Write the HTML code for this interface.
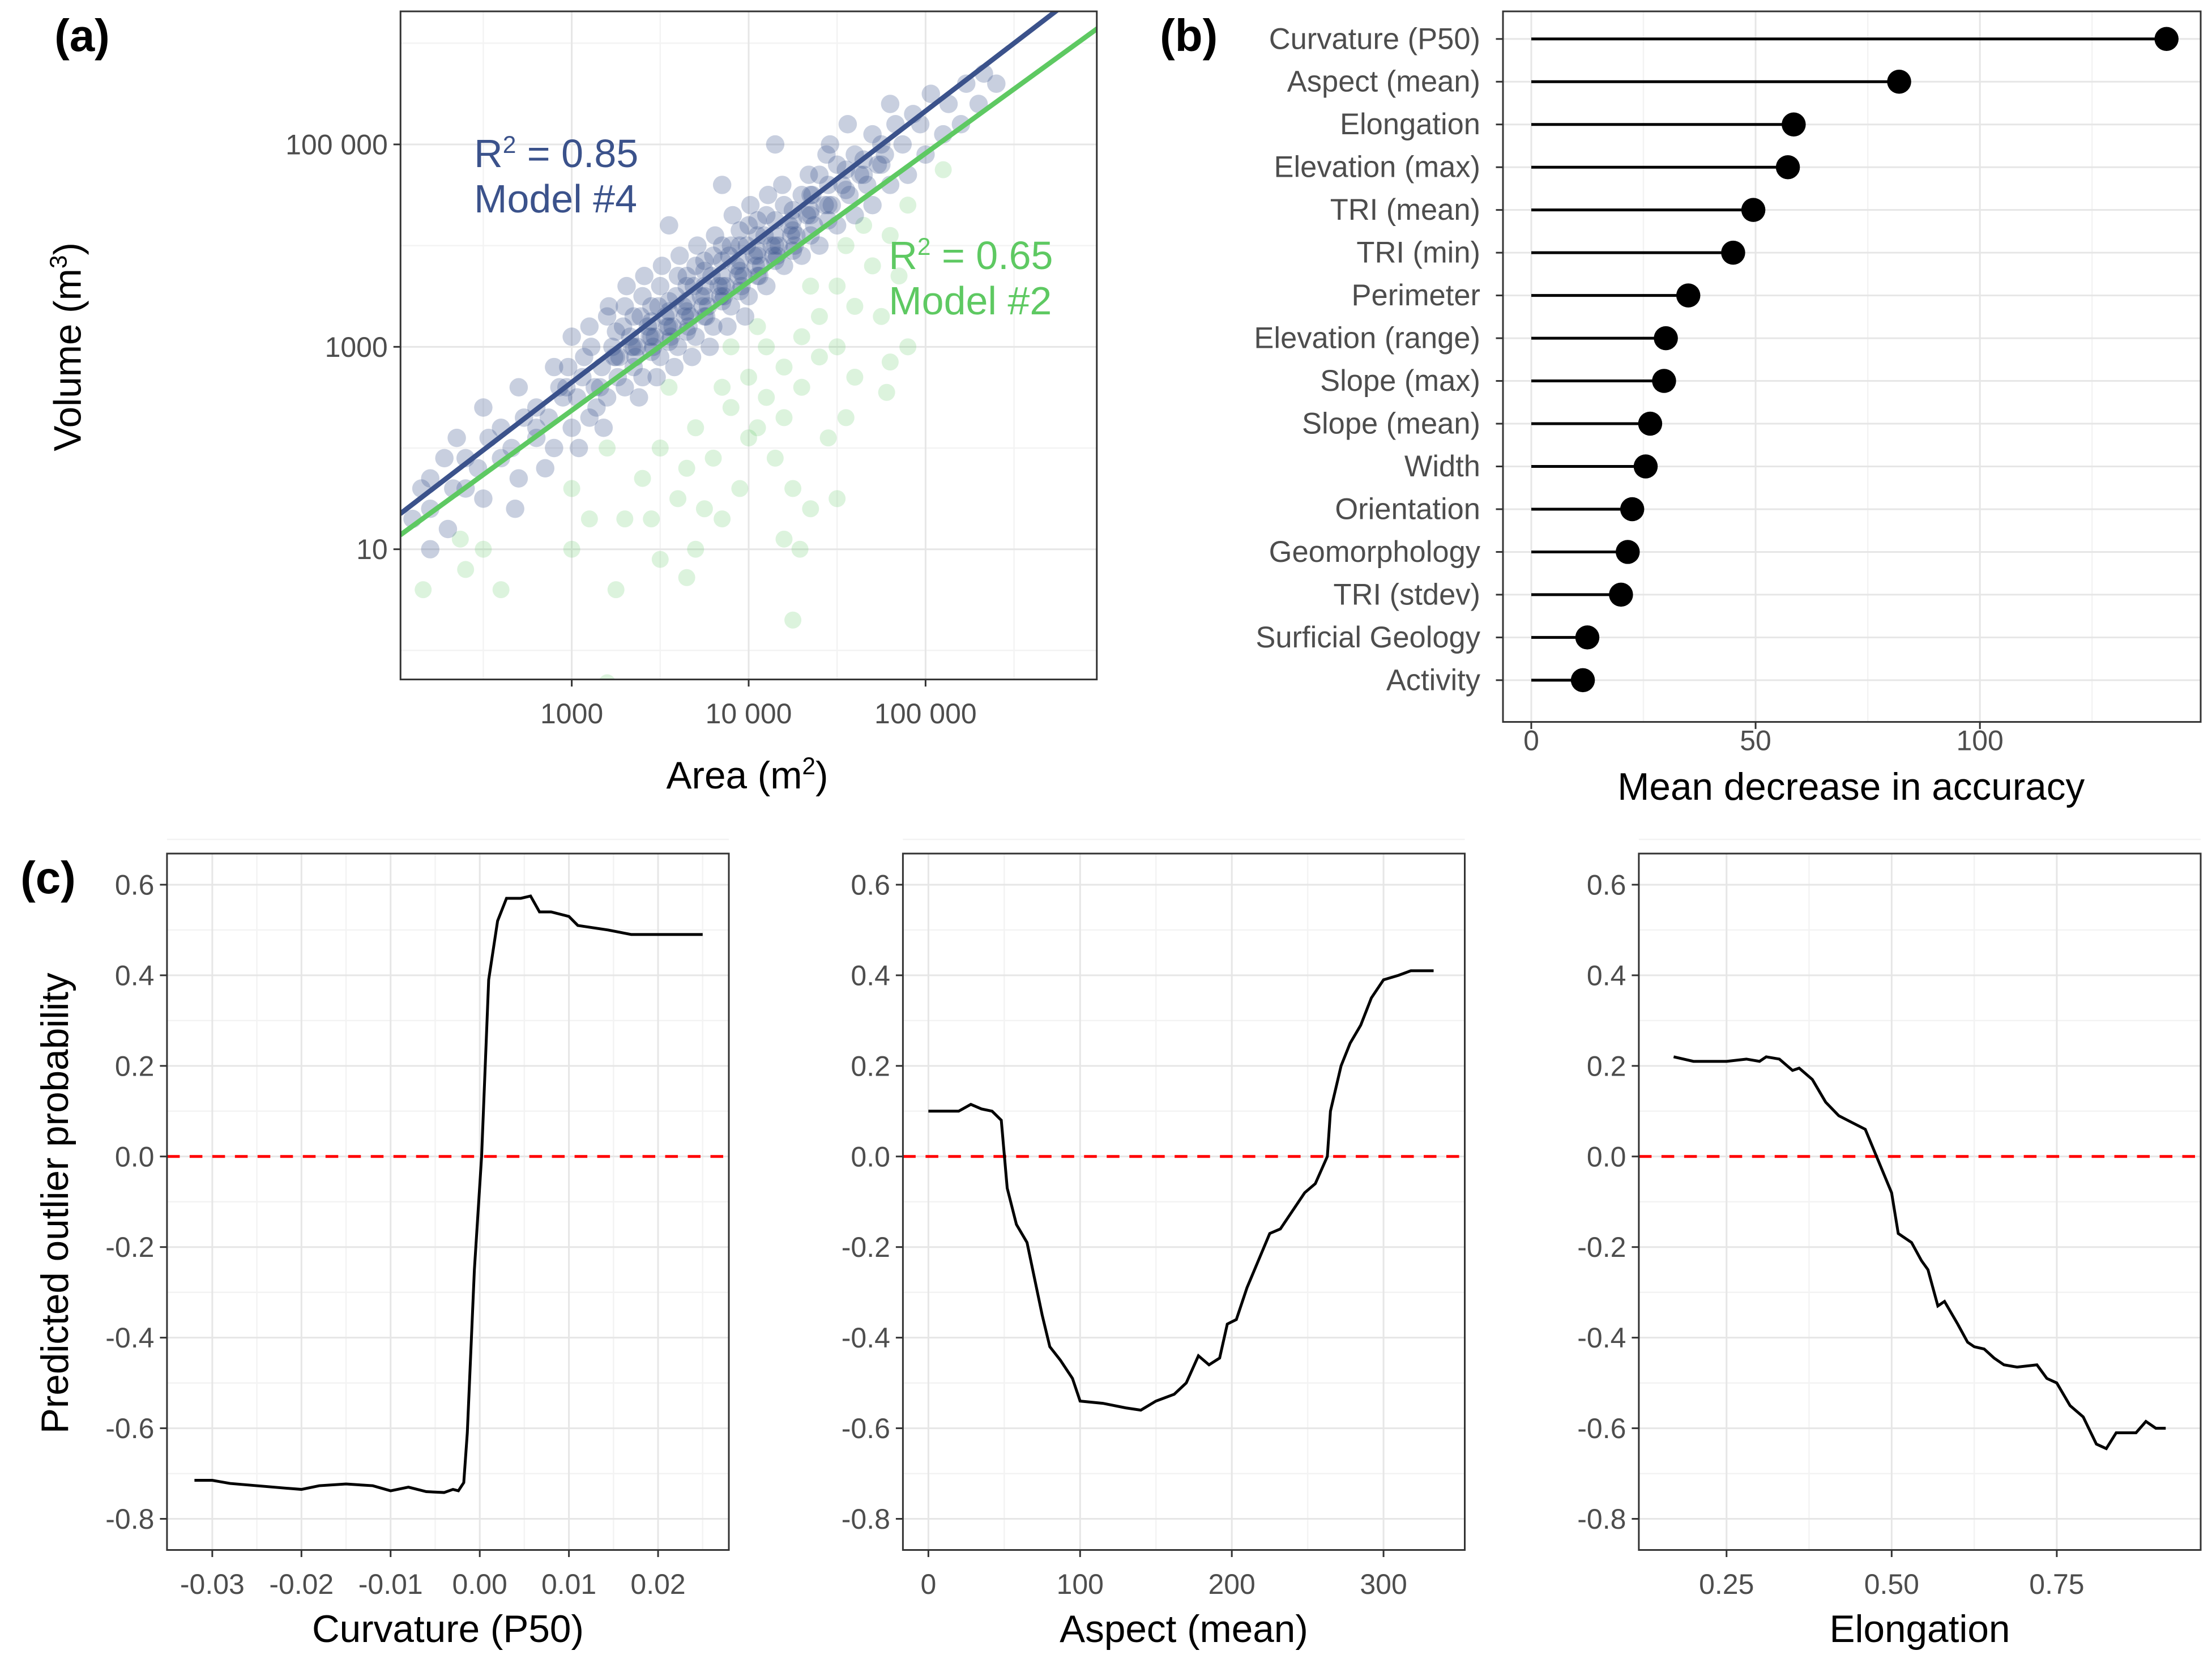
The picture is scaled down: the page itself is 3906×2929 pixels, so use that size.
<!DOCTYPE html>
<html><head><meta charset="utf-8">
<style>html,body{margin:0;padding:0;background:#fff}svg{display:block}text{font-family:"Liberation Sans",sans-serif}</style>
</head><body>
<svg id="fig" width="3906" height="2929" viewBox="0 0 1563 1172" xmlns="http://www.w3.org/2000/svg"></svg>
<script>
// ---------- DATA ----------
const blueA=[2.3,2.33,2.28,2.35,2.5,2.47,2.53,2.5,2.7,2.66,2.73,2.7,2.68,2.9,2.87,2.93,2.9,2.85,2.95,3.0,3.03,2.98,3.0,3.04,2.97,3.1,3.13,3.07,3.1,3.14,3.06,3.11,3.2,3.17,3.23,3.2,3.16,3.24,3.21,3.18,3.3,3.27,3.33,3.3,3.26,3.34,3.29,3.31,3.4,3.37,3.43,3.4,3.36,3.44,3.39,3.41,3.38,3.5,3.47,3.53,3.5,3.46,3.54,3.49,3.51,3.48,3.6,3.57,3.63,3.6,3.56,3.64,3.59,3.61,3.58,3.7,3.67,3.73,3.7,3.66,3.74,3.69,3.71,3.68,3.8,3.77,3.83,3.8,3.76,3.84,3.79,3.81,3.78,3.9,3.87,3.93,3.9,3.86,3.94,3.89,3.91,3.88,4.0,3.97,4.03,4.0,3.96,4.04,3.99,4.01,3.98,4.1,4.07,4.13,4.1,4.06,4.14,4.09,4.11,4.2,4.17,4.23,4.2,4.16,4.24,4.19,4.3,4.27,4.33,4.3,4.26,4.34,4.4,4.37,4.43,4.4,4.36,4.44,4.5,4.47,4.53,4.5,4.46,4.6,4.57,4.63,4.6,4.56,4.7,4.67,4.73,4.7,4.8,4.77,4.83,4.8,4.9,4.87,4.93,5.0,4.97,5.03,5.1,5.13,5.2,5.23,5.3,5.33,5.4,2.1,2.15,2.2,3.55,3.85,4.15,
3.25,3.25,3.35,3.35,3.35,3.45,3.45,3.45,3.45,3.55,3.55,3.55,3.55,3.65,3.65,3.65,3.65,3.65,3.75,3.75,3.75,3.75,3.75,3.85,3.85,3.85,3.85,3.85,3.95,3.95,3.95,3.95,3.95,4.05,4.05,4.05,4.05,4.05,4.15,4.15,4.15,4.15,4.25,4.25,4.25,4.25,4.35,4.35,4.35,4.35,4.45,4.45,4.45,4.55,4.55,4.65,4.65,4.75,4.75,2.2,2.2,2.4,2.4,2.6,2.6,2.8,2.8,2.8];
const blueV=[1.2,1.6,1.9,2.1,1.5,1.8,2.1,2.4,1.7,2.0,2.3,2.6,1.4,2.0,2.3,2.6,2.8,1.8,2.5,2.2,2.5,2.8,3.1,2.0,2.6,2.3,2.6,2.9,3.2,2.4,2.7,3.0,2.5,2.8,3.0,3.3,2.6,2.9,3.4,2.2,2.6,2.9,3.1,3.4,2.7,3.0,3.2,3.6,2.7,3.0,3.2,3.5,2.9,3.1,3.3,3.7,2.5,2.9,3.1,3.3,3.6,3.0,3.2,3.4,3.8,2.7,3.0,3.2,3.4,3.7,3.1,3.3,3.5,3.9,2.8,3.1,3.3,3.5,3.8,3.2,3.4,3.6,4.0,2.9,3.2,3.4,3.6,3.9,3.3,3.5,3.7,4.1,3.0,3.4,3.6,3.8,4.0,3.5,3.7,3.9,4.3,3.2,3.5,3.7,3.9,4.2,3.6,3.8,4.0,4.4,3.3,3.6,3.8,4.0,4.3,3.7,3.9,4.1,4.5,3.8,4.0,4.2,4.4,3.9,4.1,4.6,3.9,4.1,4.3,4.5,4.0,4.7,4.0,4.2,4.4,4.7,4.5,4.9,4.2,4.4,4.6,4.8,5.0,4.3,4.5,4.7,4.9,5.2,4.4,4.6,4.8,5.1,4.6,4.9,5.2,5.4,4.7,5.0,5.3,4.9,5.2,5.5,5.1,5.4,5.2,5.6,5.4,5.7,5.6,1.3,1.6,1.0,4.2,4.6,5.0,
2.9,3.15,3.0,3.3,2.8,3.1,3.4,3.25,2.95,3.2,3.45,3.35,3.05,3.35,3.6,3.45,3.15,3.7,3.5,3.75,3.6,3.3,3.85,3.6,3.85,3.7,3.45,4.0,3.75,4.0,3.85,3.55,4.15,3.9,4.1,3.95,3.7,4.25,4.0,4.25,4.1,3.85,4.15,4.35,4.25,3.95,4.3,4.5,4.35,4.1,4.4,4.6,4.25,4.55,4.75,4.7,4.85,4.8,5.0,1.4,1.7,1.6,1.9,1.9,2.2,2.1,2.4,2.2];
const greenA=[3.4,3.5,3.6,3.7,3.8,3.9,4.0,4.0,4.1,4.1,4.2,4.2,4.3,4.3,4.4,4.4,4.5,4.5,4.6,4.6,4.7,4.8,4.9,4.85,3.0,3.1,3.25,3.0,2.5,2.4,2.6,3.7,3.5,4.25,3.95,4.15,3.85,4.05,4.35,4.45,4.55,3.55,3.65,4.65,4.75,4.35,4.9,3.3,3.2,3.85,4.5,4.2,2.16,2.37,3.2,3.65,4.29,4.8,5.1,4.78,3.45,3.75,4.05,4.55,3.9,4.25];
const greenV=[1.7,2.0,1.5,2.2,1.9,2.4,2.1,2.7,2.5,3.0,2.3,2.8,3.1,2.6,2.9,3.3,3.0,3.6,3.4,2.7,3.8,4.1,4.4,3.7,1.6,1.3,0.6,1.0,1.0,0.8,0.6,1.0,0.9,0.3,1.6,1.9,2.6,3.2,3.6,2.1,4.0,2.6,1.8,4.2,3.3,1.4,3.0,1.3,2.0,1.3,1.5,1.1,0.6,1.1,-0.32,0.72,1.0,2.85,4.75,2.55,1.3,1.4,2.2,2.3,3.0,1.6];
const blueFit=[1.35,1.34]; // intercept at logA=2.03, slope
const greenFit=[1.14,1.27];
const featNames=["Curvature (P50)","Aspect (mean)","Elongation","Elevation (max)","TRI (mean)","TRI (min)","Perimeter","Elevation (range)","Slope (max)","Slope (mean)","Width","Orientation","Geomorphology","TRI (stdev)","Surficial Geology","Activity"];
const featVals=[141.6,82,58.5,57.2,49.5,45,35,30,29.6,26.5,25.5,22.5,21.5,20,12.5,11.5];
const curvX=[-0.032,-0.030,-0.028,-0.025,-0.022,-0.020,-0.018,-0.015,-0.012,-0.010,-0.008,-0.006,-0.004,-0.003,-0.0024,-0.0018,-0.0014,-0.0006,0.0002,0.001,0.002,0.003,0.0046,0.0057,0.0067,0.008,0.010,0.011,0.0144,0.017,0.025];
const curvY=[-0.715,-0.715,-0.722,-0.727,-0.732,-0.735,-0.727,-0.723,-0.727,-0.738,-0.73,-0.74,-0.742,-0.735,-0.738,-0.72,-0.61,-0.25,0.0,0.39,0.52,0.57,0.57,0.575,0.54,0.54,0.53,0.51,0.50,0.49,0.49];
const aspX=[0,20,28,35,42,48,52,58,65,75,80,87,95,100,115,130,140,150,162,170,178,185,192,197,203,210,225,232,240,248,255,263,265,272,278,285,292,300,310,318,333];
const aspY=[0.1,0.1,0.115,0.105,0.1,0.08,-0.07,-0.15,-0.19,-0.35,-0.42,-0.45,-0.49,-0.54,-0.545,-0.555,-0.56,-0.54,-0.525,-0.5,-0.44,-0.46,-0.445,-0.37,-0.36,-0.29,-0.17,-0.16,-0.12,-0.08,-0.06,0.0,0.1,0.2,0.25,0.29,0.35,0.39,0.40,0.41,0.41];
const elX=[0.17,0.2,0.25,0.28,0.3,0.31,0.33,0.35,0.36,0.38,0.4,0.42,0.44,0.46,0.48,0.5,0.51,0.53,0.545,0.555,0.57,0.58,0.6,0.615,0.625,0.64,0.655,0.67,0.69,0.72,0.735,0.75,0.77,0.79,0.81,0.825,0.84,0.87,0.885,0.9,0.915];
const elY=[0.22,0.21,0.21,0.215,0.21,0.22,0.215,0.19,0.195,0.17,0.12,0.09,0.075,0.06,-0.01,-0.08,-0.17,-0.19,-0.23,-0.25,-0.33,-0.32,-0.37,-0.41,-0.42,-0.425,-0.445,-0.46,-0.465,-0.46,-0.49,-0.5,-0.55,-0.575,-0.635,-0.645,-0.61,-0.61,-0.585,-0.6,-0.6];
const yTicksC=[0.6,0.4,0.2,0.0,-0.2,-0.4,-0.6,-0.8];

// ---------- helpers ----------
const svg=document.getElementById('fig');const NS='http://www.w3.org/2000/svg';
function mk(tag,attrs,parent,name,inter){const e=document.createElementNS(NS,tag);for(const k in attrs)e.setAttribute(k,attrs[k]);


(parent||svg).appendChild(e);return e;}
function txt(s,x,y,size,parent,name,opt){opt=opt||{};const t=mk('text',{x:x,y:y,'font-size':size,fill:opt.fill||'#000','text-anchor':opt.anchor||'middle','font-weight':opt.bold?'bold':'normal'},parent,name);if(opt.rot)t.setAttribute('transform','rotate(-90 '+x+' '+y+')');t.innerHTML=s;return t;}
function line(x1,y1,x2,y2,stroke,w,parent,name,dash){const l=mk('line',{x1,y1,x2,y2,stroke,'stroke-width':w},parent,name);if(dash)l.setAttribute('stroke-dasharray',dash);return l;}
const TICK='#4d4d4d',MAJ='#e6e6e6',MIN='#f3f3f3';

// ---------- Panel A ----------
const ga=mk('g',{},svg,'panel-a');
const aL=283,aR=775,aT=8,aB=480;
const xa=v=>404+(v-3)*125, ya=v=>245-(v-3)*71.5;
mk('rect',{x:aL,y:aT,width:aR-aL,height:aB-aT,fill:'#fff'},ga,'plot-background-a');
[2.5,3.5,4.5,5.5].forEach(v=>line(xa(v),aT,xa(v),aB,MIN,1,ga,'minor-gridline-x'));
[6,4,2,0].forEach(v=>line(aL,ya(v),aR,ya(v),MIN,1,ga,'minor-gridline-y'));
[3,4,5].forEach(v=>line(xa(v),aT,xa(v),aB,MAJ,1.2,ga,'major-gridline-x'));
[5,3,1].forEach(v=>line(aL,ya(v),aR,ya(v),MAJ,1.2,ga,'major-gridline-y'));
const clipA=mk('clipPath',{id:'clipA'},ga,'clip-a');mk('rect',{x:aL,y:aT,width:aR-aL,height:aB-aT},clipA,'clip-rect');
const pts=mk('g',{'clip-path':'url(#clipA)'},ga,'scatter-points');
for(let i=0;i<greenA.length;i++)mk('circle',{cx:xa(greenA[i]),cy:ya(greenV[i]),r:6,fill:'#5ec962','fill-opacity':0.22},pts,'green-point');
for(let i=0;i<blueA.length;i++)mk('circle',{cx:xa(blueA[i]),cy:ya(blueV[i]),r:6.5,fill:'#3b528b','fill-opacity':0.28},pts,'blue-point');
function fit(f,col,name){const a0=2.03,a1=6.0;line(xa(a0),ya(f[0]),xa(a1),ya(f[0]+f[1]*(a1-a0)),col,3.5,pts,name);}
fit(blueFit,'#3b528b','fit-line-model-4');fit(greenFit,'#5ec962','fit-line-model-2');
mk('rect',{x:aL,y:aT,width:aR-aL,height:aB-aT,fill:'none',stroke:'#333','stroke-width':1.2},ga,'panel-border-a');
[[3,'1000'],[4,'10 000'],[5,'100 000']].forEach(([v,s])=>{line(xa(v),aB,xa(v),aB+5,'#333',1.2,ga,'x-tick');txt(s,xa(v),511,20,ga,'x-tick-label',{fill:TICK});});
[[5,'100 000'],[3,'1000'],[1,'10']].forEach(([v,s])=>{line(aL-5,ya(v),aL,ya(v),'#333',1.2,ga,'y-tick');txt(s,aL-9,ya(v)+7,20,ga,'y-tick-label',{fill:TICK,anchor:'end'});});
txt('Area (m<tspan dy="-10" font-size="17">2</tspan><tspan dy="10">)</tspan>',528,557,27,ga,'x-axis-title');
txt('Volume (m<tspan dy="-10" font-size="17">3</tspan><tspan dy="10">)</tspan>',57,245,27,ga,'y-axis-title',{rot:true});
txt('R<tspan dy="-10" font-size="17">2</tspan><tspan dy="10"> = 0.85</tspan>',335,118,28,ga,'r2-model-4',{fill:'#3b528b',anchor:'start'});
txt('Model #4',335,150,28,ga,'label-model-4',{fill:'#3b528b',anchor:'start'});
txt('R<tspan dy="-10" font-size="17">2</tspan><tspan dy="10"> = 0.65</tspan>',628,190,28,ga,'r2-model-2',{fill:'#5ec962',anchor:'start'});
txt('Model #2',628,222,28,ga,'label-model-2',{fill:'#5ec962',anchor:'start'});
txt('(a)',58,36,32,svg,'panel-label-a',{bold:true});

// ---------- Panel B ----------
const gb=mk('g',{},svg,'panel-b');
const bL=1062,bR=1555,bT=8,bB=510;
const xb=v=>1082+v*3.17, yb=i=>27.5+i*30.2;
[25,75,125].forEach(v=>line(xb(v),bT,xb(v),bB,MIN,1,gb,'minor-gridline-x'));
[0,50,100].forEach(v=>line(xb(v),bT,xb(v),bB,MAJ,1.2,gb,'major-gridline-x'));
featNames.forEach((n,i)=>line(bL,yb(i),bR,yb(i),MAJ,1.2,gb,'major-gridline-y'));
featNames.forEach((n,i)=>{
  line(xb(0),yb(i),xb(featVals[i]),yb(i),'#000',2,gb,'lollipop-stem');
  mk('circle',{cx:xb(featVals[i]),cy:yb(i),r:8.5,fill:'#000'},gb,'lollipop-dot');
  line(bL-5,yb(i),bL,yb(i),'#333',1.2,gb,'y-tick');
  txt(n,bL-16,yb(i)+7,21,gb,'feature-label',{fill:TICK,anchor:'end'});
});
mk('rect',{x:bL,y:bT,width:bR-bL,height:bB-bT,fill:'none',stroke:'#333','stroke-width':1.2},gb,'panel-border-b');
[0,50,100].forEach(v=>{line(xb(v),bB,xb(v),bB+5,'#333',1.2,gb,'x-tick');txt(String(v),xb(v),530,20,gb,'x-tick-label',{fill:TICK});});
txt('Mean decrease in accuracy',1308,565,27,gb,'x-axis-title');
txt('(b)',840,36,32,svg,'panel-label-b',{bold:true});

// ---------- Panel C ----------
const cT=603,cB=1095;const yc=v=>817-v*320;
function pdp(L,R,xf,xTicks,xMin,xs,ys,title,name){
  const g=mk('g',{},svg,name);
  xMin.forEach(v=>line(xf(v),cT,xf(v),cB,MIN,1,g,'minor-gridline-x'));
  [0.7,0.5,0.3,0.1,-0.1,-0.3,-0.5,-0.7].forEach(v=>line(L,yc(v),R,yc(v),MIN,1,g,'minor-gridline-y'));
  xTicks.forEach(t=>line(xf(t[0]),cT,xf(t[0]),cB,MAJ,1.2,g,'major-gridline-x'));
  yTicksC.forEach(v=>line(L,yc(v),R,yc(v),MAJ,1.2,g,'major-gridline-y'));
  line(L,yc(0),R,yc(0),'#ff0000',2,g,'zero-reference-line','9,7');
  let d='';xs.forEach((x,i)=>{d+=(i?'L':'M')+xf(x).toFixed(1)+' '+yc(ys[i]).toFixed(1);});
  mk('path',{d:d,fill:'none',stroke:'#000','stroke-width':2},g,'partial-dependence-line');
  mk('rect',{x:L,y:cT,width:R-L,height:cB-cT,fill:'none',stroke:'#333','stroke-width':1.2},g,'panel-border');
  yTicksC.forEach(v=>{line(L-5,yc(v),L,yc(v),'#333',1.2,g,'y-tick');txt(v.toFixed(1),L-9,yc(v)+7,20,g,'y-tick-label',{fill:TICK,anchor:'end'});});
  xTicks.forEach(t=>{line(xf(t[0]),cB,xf(t[0]),cB+5,'#333',1.2,g,'x-tick');txt(t[1],xf(t[0]),1126,20,g,'x-tick-label',{fill:TICK});});
  txt(title,(L+R)/2,1160,27,g,'x-axis-title');
}
const x1=v=>339+v*6300;
pdp(118,515,x1,[[-0.03,'-0.03'],[-0.02,'-0.02'],[-0.01,'-0.01'],[0,'0.00'],[0.01,'0.01'],[0.02,'0.02']],[-0.025,-0.015,-0.005,0.005,0.015,0.025],curvX,curvY,'Curvature (P50)','panel-c-curvature');
const x2=v=>656+v*1.072;
pdp(638,1035,x2,[[0,'0'],[100,'100'],[200,'200'],[300,'300']],[50,150,250],aspX,aspY,'Aspect (mean)','panel-c-aspect');
const x3=v=>1103.3+v*466.7;
pdp(1158,1555,x3,[[0.25,'0.25'],[0.5,'0.50'],[0.75,'0.75']],[0.375,0.625],elX,elY,'Elongation','panel-c-elongation');
txt('Predicted outlier probability',48,850,27,svg,'y-axis-title-c',{rot:true});
txt('(c)',34,631,32,svg,'panel-label-c',{bold:true});
</script>
</body></html>
